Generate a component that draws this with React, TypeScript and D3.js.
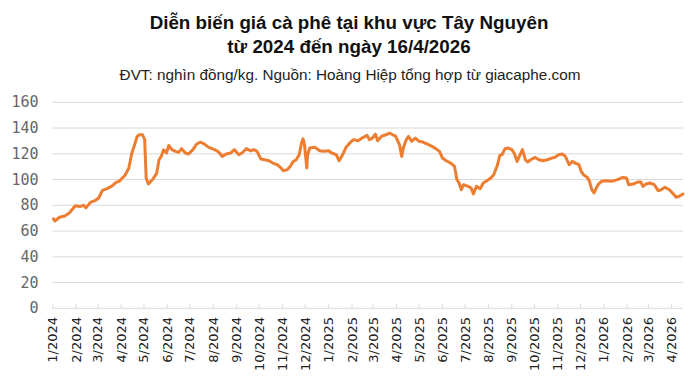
import React from "react";
import * as d3 from "d3";

const dates: string[] = [
  "2024-01-02","2024-01-04","2024-01-10","2024-01-17","2024-01-23","2024-01-31","2024-02-06","2024-02-11","2024-02-14","2024-02-20",
  "2024-02-26","2024-03-02","2024-03-07","2024-03-13","2024-03-19","2024-03-25","2024-03-29","2024-04-02","2024-04-06","2024-04-11",
  "2024-04-15","2024-04-18","2024-04-22","2024-04-25","2024-04-29","2024-05-02","2024-05-04","2024-05-07","2024-05-13","2024-05-18",
  "2024-05-21","2024-05-24","2024-05-27","2024-05-31","2024-06-03","2024-06-07","2024-06-12","2024-06-16","2024-06-20","2024-06-25",
  "2024-06-29","2024-07-05","2024-07-10","2024-07-15","2024-07-20","2024-07-26","2024-08-01","2024-08-07","2024-08-13","2024-08-18",
  "2024-08-24","2024-08-29","2024-09-04","2024-09-08","2024-09-14","2024-09-19","2024-09-24","2024-09-28","2024-10-03","2024-10-08",
  "2024-10-14","2024-10-19","2024-10-25","2024-10-29","2024-11-02","2024-11-07","2024-11-11","2024-11-15","2024-11-19","2024-11-23",
  "2024-11-26","2024-11-28","2024-11-30","2024-12-03","2024-12-04","2024-12-07","2024-12-14","2024-12-20","2024-12-26","2025-01-01",
  "2025-01-05","2025-01-11","2025-01-15","2025-01-20","2025-01-24","2025-01-29","2025-02-03","2025-02-09","2025-02-16","2025-02-21",
  "2025-02-24","2025-02-28","2025-03-04","2025-03-07","2025-03-12","2025-03-18","2025-03-23","2025-03-27","2025-03-31","2025-04-05",
  "2025-04-08","2025-04-10","2025-04-14","2025-04-17","2025-04-21","2025-04-26","2025-05-01","2025-05-06","2025-05-12","2025-05-18",
  "2025-05-23","2025-05-28","2025-06-01","2025-06-06","2025-06-12","2025-06-17","2025-06-20","2025-06-23","2025-06-26","2025-06-29",
  "2025-07-05","2025-07-09","2025-07-12","2025-07-16","2025-07-21","2025-07-25","2025-07-30","2025-08-04","2025-08-08","2025-08-13",
  "2025-08-16","2025-08-19","2025-08-23","2025-08-27","2025-09-01","2025-09-04","2025-09-08","2025-09-12","2025-09-15","2025-09-19",
  "2025-09-22","2025-09-26","2025-10-02","2025-10-07","2025-10-12","2025-10-18","2025-10-24","2025-10-28","2025-11-02","2025-11-07",
  "2025-11-11","2025-11-16","2025-11-20","2025-11-24","2025-11-29","2025-12-02","2025-12-05","2025-12-10","2025-12-13","2025-12-16",
  "2025-12-19","2025-12-22","2025-12-25","2025-12-29","2026-01-04","2026-01-10","2026-01-15","2026-01-21","2026-01-26","2026-01-31",
  "2026-02-03","2026-02-09","2026-02-15","2026-02-19","2026-02-22","2026-02-26","2026-03-03","2026-03-09","2026-03-14","2026-03-18",
  "2026-03-23","2026-03-29","2026-04-02","2026-04-07","2026-04-11","2026-04-16"
];

const prices: number[] = [
  69.4,67.8,70.7,71.7,74,79.7,79,80,78,82.3,
  83.6,85.7,91.6,93,94.7,97.8,98.6,101,103.3,109,
  120.6,125.8,133.5,134.8,134.8,131,101,96.5,100.4,105,
  115.4,118,123.2,120.6,126.5,123.2,121.9,121.1,124,120.6,
  119.8,123.2,127.6,129,127.6,125,123.7,121.9,118,119.8,
  120.6,123.2,119.3,120.6,124,122.4,123.2,121.9,116,115.4,
  114.6,112.8,111.5,109.5,106.9,107.6,110.2,114,115.4,119.3,
  128.4,131.7,127,109,119.3,124.5,125,122.4,121.9,122.4,
  120.6,119.3,114.6,119.8,125,128.4,131,130.2,132.8,134.3,
  131,132.2,135.3,130.2,133.5,134.8,136,134.8,133.5,127,
  118,124.5,131,133.5,129.7,132.2,129.7,129.1,127.6,125.8,
  124,121.9,116.7,114.6,112.8,110.2,100,97.3,92.1,96,
  94.7,93.4,88.8,94.7,92.9,97.3,99.1,101.2,103.8,111.5,
  118.8,119.3,124,124.5,123.2,120.6,114.1,119.3,123.2,115.4,
  113.6,115.4,117.2,115.4,114.6,115.4,116.7,117.2,119.3,119.8,
  118,111.5,114.1,112.8,111.5,106.4,103.8,101.7,98.6,92.1,
  89.6,93.4,96.5,98.6,99.1,98.6,99.1,100.4,101.7,101.2,
  96,96.5,98.1,98.1,94.7,96.5,97.3,96,91.4,92.1,
  94,92.1,89.6,86.2,87,88.8
];

const yTicks: number[] = [0, 20, 40, 60, 80, 100, 120, 140, 160];

const monthTicks: string[] = [
  "2024-01-01","2024-02-01","2024-03-01","2024-04-01","2024-05-01","2024-06-01","2024-07-01","2024-08-01","2024-09-01",
  "2024-10-01","2024-11-01","2024-12-01","2025-01-01","2025-02-01","2025-03-01","2025-04-01","2025-05-01","2025-06-01",
  "2025-07-01","2025-08-01","2025-09-01","2025-10-01","2025-11-01","2025-12-01","2026-01-01","2026-02-01","2026-03-01","2026-04-01"
];

const title1 = "Diễn biến giá cà phê tại khu vực Tây Nguyên";
const title2 = "từ 2024 đến ngày 16/4/2026";
const subtitle = "ĐVT: nghìn đồng/kg. Nguồn: Hoàng Hiệp tổng hợp từ giacaphe.com";

const parse = d3.utcParse("%Y-%m-%d");
const fmt = d3.utcFormat("%-m/%Y");

export default function App() {
  const W = 700, H = 384;
  const left = 52.7, right = 683, top = 102.3, bottom = 308.3;
  const x = d3.scaleUtc()
    .domain([parse("2024-01-01")!, parse("2026-04-16")!])
    .range([left, right]);
  const y = d3.scaleLinear().domain([0, 160]).range([bottom, top]);

  const pts = dates.map((d, i) => ({ d: parse(d)!, v: prices[i] }));
  const line = d3.line<{ d: Date; v: number }>()
    .x((p) => x(p.d))
    .y((p) => y(p.v));

  return (
    <svg width={W} height={H} style={{ position: "absolute", left: 0, top: 0, background: "#fff" }}>
      <rect x={0} y={0} width={W} height={H} fill="#fff" />
      <text x={349} y={29} textAnchor="middle" fontFamily="Liberation Sans, Arial, sans-serif" fontWeight="bold" fontSize={18.8} fill="#111">{title1}</text>
      <text x={349} y={53} textAnchor="middle" fontFamily="Liberation Sans, Arial, sans-serif" fontWeight="bold" fontSize={18.8} fill="#111">{title2}</text>
      <text x={350} y={80} textAnchor="middle" fontFamily="Liberation Sans, Arial, sans-serif" fontSize={15.3} fill="#222">{subtitle}</text>

      {yTicks.map((t) => (
        <g key={t}>
          <line x1={left} x2={right} y1={y(t)} y2={y(t)} stroke="#d9d9d9" strokeWidth={1} />
          <text x={38.5} y={y(t)} textAnchor="end" dominantBaseline="central" fontFamily="DejaVu Sans Mono, monospace" fontSize={15} fill="#666">{t}</text>
        </g>
      ))}

      {monthTicks.map((m) => {
        const xx = x(parse(m)!);
        return (
          <g key={m}>
            <line x1={xx} x2={xx} y1={bottom - 4} y2={bottom} stroke="#d9d9d9" strokeWidth={1} />
            <text transform={`translate(${xx},${317}) rotate(-90)`} textAnchor="end" dominantBaseline="central" fontFamily="DejaVu Sans, sans-serif" fontSize={13} fill="#222">{fmt(parse(m)!)}</text>
          </g>
        );
      })}

      <path d={line(pts) || ""} fill="none" stroke="#ED7D31" strokeWidth={3} strokeLinejoin="round" strokeLinecap="round" />
    </svg>
  );
}
